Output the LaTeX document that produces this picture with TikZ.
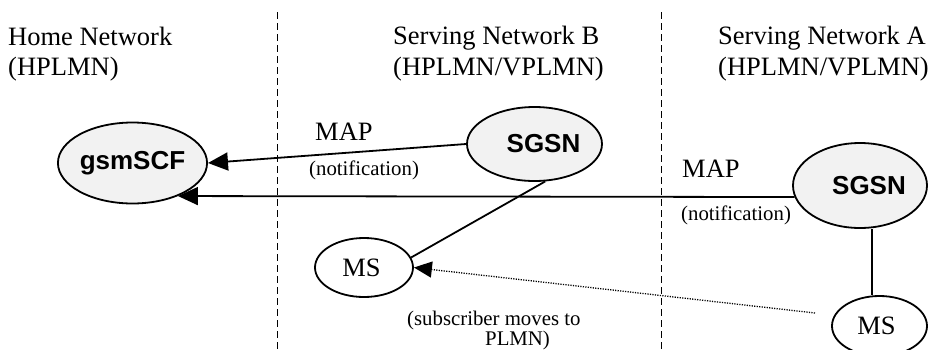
\documentclass[tikz,border=0pt]{standalone}
\usepackage{fontspec}
\setmainfont{Liberation Serif}
\newfontfamily\boldsans{Liberation Sans}
\usetikzlibrary{arrows.meta,shapes.geometric}
\definecolor{nodefill}{HTML}{F2F2F2}
\begin{document}
\begin{tikzpicture}[x=1pt,y=-1pt,
  bigtxt/.style={inner sep=0pt,anchor=base west,font=\fontsize{26.5}{30}\selectfont},
  smalltxt/.style={inner sep=0pt,anchor=base west,font=\fontsize{20.8}{24}\selectfont},
  entity/.style={ellipse,draw,line width=1.8pt,fill=nodefill,inner sep=0pt,
     font=\boldsans\bfseries\fontsize{26}{30}\selectfont},
  msnode/.style={ellipse,draw,line width=1.8pt,fill=white,inner sep=0pt,
     font=\fontsize{26.5}{30}\selectfont},
  border/.style={line width=1.5pt,dash pattern=on 7pt off 4pt},
  link/.style={line width=1.8pt},
  msg/.style={line width=1.8pt,-{Triangle[length=20pt,width=18pt]}},
  move/.style={line width=1.3pt,dash pattern=on 1.2pt off 1.3pt,-{Triangle[length=18pt,width=16pt]}}
]
\useasboundingbox (0,0) rectangle (930,349);
% separators
\coordinate (b1t) at (277.5,12);
\coordinate (b1b) at (277.5,349);
\coordinate (b2t) at (661.5,12);
\coordinate (b2b) at (661.5,349);
\draw[border] (b1t) -- (b1b);
\draw[border] (b2t) -- (b2b);
% headers
\node[bigtxt] (h1) at (8,45) {Home Network};
\node[bigtxt] (h2) at (8,75) {(HPLMN)};
\node[bigtxt] (sb1) at (393,44) {Serving Network B};
\node[bigtxt] (sb2) at (393,75) {(HPLMN/VPLMN)};
\node[bigtxt] (sa1) at (718,44) {Serving Network A};
\node[bigtxt] (sa2) at (718,75) {(HPLMN/VPLMN)};
% entities
\node[entity,minimum width=134pt,minimum height=81pt] (gsm) at (132.5,163) {gsmSCF};
\node[entity,minimum width=135pt,minimum height=74pt] (sgsnB) at (534.5,144) {\hspace*{18pt}SGSN};
\node[entity,minimum width=134pt,minimum height=85pt] (sgsnA) at (860,185.5) {\hspace*{18pt}SGSN};
\node[msnode,minimum width=98pt,minimum height=59pt] (msB) at (364,267.5) {\hspace*{-5pt}MS};
\node[msnode,minimum width=95pt,minimum height=60pt] (msA) at (879.5,326) {\hspace*{-6pt}MS};
% connectors
\draw[msg] (sgsnB.west) -- (gsm.east);
\draw[msg] (sgsnA.190) -- (gsm.-36);
\draw[link] (sgsnB.-74) -- (msB.12);
\draw[link] ([xshift=12pt]sgsnA.south) -- ([xshift=-7.5pt]msA.north);
\coordinate (mvstart) at (815,313);
\draw[move] (mvstart) -- (msB.east);
% labels
\node[bigtxt] (map1) at (315,140) {MAP};
\node[smalltxt] (not1) at (309,175) {(notification)};
\node[bigtxt] (map2) at (682,177) {MAP};
\node[smalltxt] (not2) at (681,220) {(notification)};
\node[smalltxt] (sub1) at (407,325) {(subscriber moves to};
\node[smalltxt] (sub2) at (485,345) {PLMN)};
\end{tikzpicture}
\end{document}
